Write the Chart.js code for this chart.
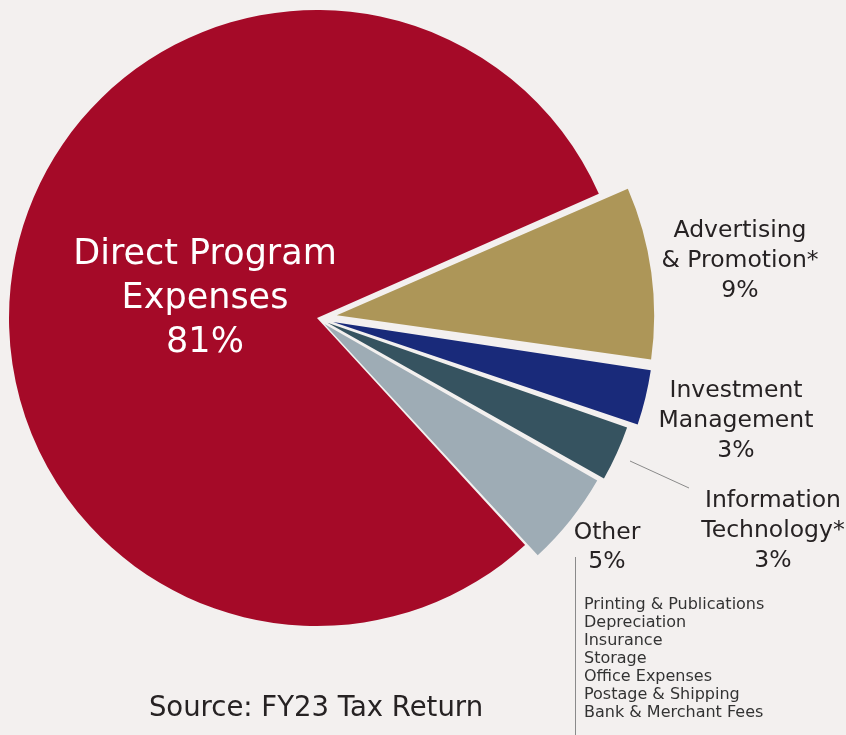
<!DOCTYPE html>
<html>
<head>
<meta charset="utf-8">
<script src="https://cdn.jsdelivr.net/npm/chart.js@4.4.1/dist/chart.umd.min.js"></script>
<style>
  html, body { margin: 0; padding: 0; background: #f3f0ef; }
  #wrap { position: relative; width: 846px; height: 735px; }
</style>
</head>
<body>
<div id="wrap"><canvas id="pie" width="846" height="735"></canvas></div>
<script>
// --- data ---
const categories = ['Direct Program Expenses', 'Advertising & Promotion*', 'Investment Management', 'Information Technology*', 'Other'];
const values = [81, 9, 3, 3, 5];
const labelLines = [['Direct Program', 'Expenses'], ['Advertising', '& Promotion*'], ['Investment', 'Management'], ['Information', 'Technology*'], ['Other']];
const otherItems = ['Printing & Publications', 'Depreciation', 'Insurance', 'Storage', 'Office Expenses', 'Postage & Shipping', 'Bank & Merchant Fees'];
const sourceNote = 'Source: FY23 Tax Return';

// --- styling ---
const colors = ['#a50a28', '#ad9658', '#192a7a', '#365360', '#9eacb5'];
const sliceOffsets = [0, 80, 66, 46, 38];
const FONT = '"DejaVu Sans", sans-serif';
const TEXT = '#262223';

// label anchor (centre x, first baseline), font size, line height
const labelPos = [
  { x: 205, y: 264, size: 35, lh: 44, color: '#ffffff' },
  { x: 740, y: 237, size: 23.5, lh: 30, color: TEXT },
  { x: 736, y: 397, size: 23.5, lh: 30, color: TEXT },
  { x: 773, y: 507, size: 23.5, lh: 30, color: TEXT },
  { x: 607, y: 539, size: 23.5, lh: 29, color: TEXT }
];

const annotations = {
  id: 'annotations',
  beforeDraw(chart) {
    const ctx = chart.ctx;
    ctx.save();
    ctx.fillStyle = '#f3f0ef';
    ctx.fillRect(0, 0, chart.width, chart.height);
    ctx.restore();
  },
  afterDraw(chart) {
    const ctx = chart.ctx;
    ctx.save();
    ctx.textAlign = 'center';
    ctx.textBaseline = 'alphabetic';
    labelLines.forEach((lines, i) => {
      const p = labelPos[i];
      ctx.fillStyle = p.color;
      ctx.font = `${p.size}px ${FONT}`;
      const all = lines.concat([values[i] + '%']);
      all.forEach((t, k) => ctx.fillText(t, p.x, p.y + k * p.lh));
    });

    // leader line for Information Technology
    ctx.strokeStyle = '#8a8a8a';
    ctx.lineWidth = 1;
    ctx.beginPath();
    ctx.moveTo(630, 461);
    ctx.lineTo(689, 488);
    ctx.stroke();

    // bracket line for the "Other" breakdown
    ctx.beginPath();
    ctx.moveTo(575.5, 557);
    ctx.lineTo(575.5, 735);
    ctx.stroke();

    ctx.textAlign = 'left';
    ctx.fillStyle = '#333333';
    ctx.font = `16px ${FONT}`;
    otherItems.forEach((t, k) => ctx.fillText(t, 584, 609 + k * 18));

    ctx.textAlign = 'center';
    ctx.fillStyle = TEXT;
    ctx.font = `27.5px ${FONT}`;
    ctx.fillText(sourceNote, 316, 716);
    ctx.restore();
  }
};

new Chart(document.getElementById('pie'), {
  type: 'pie',
  data: {
    labels: categories,
    datasets: [{
      data: values,
      backgroundColor: colors,
      borderWidth: 0,
      offset: sliceOffsets,
      hoverOffset: 0
    }]
  },
  options: {
    responsive: false,
    animation: false,
    rotation: 137.5,
    radius: 308,
    layout: { padding: { left: 0, top: 0, right: 212, bottom: 99 } },
    plugins: { legend: { display: false }, tooltip: { enabled: false } }
  },
  plugins: [annotations]
});
</script>
</body>
</html>
